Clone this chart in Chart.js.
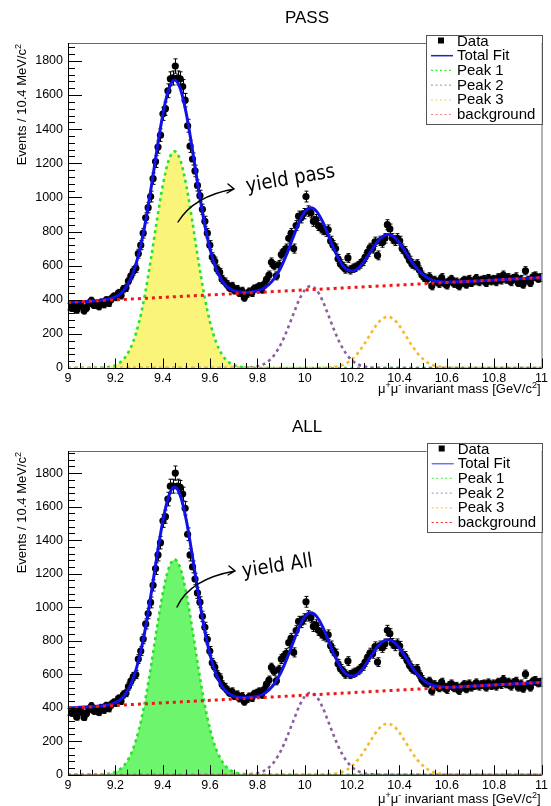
<!DOCTYPE html>
<html>
<head>
<meta charset="utf-8">
<script src="https://cdn.jsdelivr.net/npm/chart.js@4.4.1/dist/chart.umd.min.js"></script>
<style>
    html, body { margin: 0; padding: 0; background: #fff; }
    #wrap { position: relative; width: 551px; height: 806px; overflow: hidden; }
    canvas { position: absolute; left: 0; }
</style>
</head>
<body>
<div id="wrap">
    <canvas id="passChart" width="551" height="403" style="top:0"></canvas>
    <canvas id="allChart" width="551" height="403" style="top:403px"></canvas>
</div>
<script>
(function() {
    'use strict';

    var massTicks = [9, 9.2, 9.4, 9.6, 9.8, 10, 10.2, 10.4, 10.6, 10.8, 11];
    var eventTicks = [0, 200, 400, 600, 800, 1000, 1200, 1400, 1600, 1800];
    var legendLabels = ['Data', 'Total Fit', 'Peak 1', 'Peak 2', 'Peak 3', 'background'];

    // events per 10.4 MeV bin, 192 bins from 9 to 11 GeV
    var passCounts = [
        360, 350, 365, 340, 372, 360, 335, 352, 380, 395,
        368, 375, 360, 385, 372, 398, 380, 405, 420, 415,
        440, 425, 462, 470, 510, 540, 568, 585, 670, 720,
        790, 880, 940, 1005, 1110, 1210, 1295, 1365, 1490, 1520,
        1625, 1695, 1700, 1770, 1700, 1695, 1650, 1570, 1420, 1300,
        1225, 1155, 1070, 1010, 930, 860, 790, 720, 650, 625,
        580, 560, 520, 505, 490, 470, 480, 455, 462, 440,
        452, 412, 435, 448, 440, 465, 470, 478, 460, 490,
        520, 545, 620, 600, 540, 605, 665, 685, 700, 760,
        790, 700, 835, 890, 880, 905, 1005, 920, 910, 860,
        870, 835, 820, 810, 800, 810, 745, 720, 700, 640,
        610, 595, 580, 645, 575, 585, 590, 600, 610, 625,
        650, 680, 705, 700, 740, 660, 745, 735, 760, 840,
        815, 760, 745, 760, 745, 700, 685, 660, 630, 610,
        600, 610, 575, 545, 530, 520, 535, 480, 515, 505,
        495, 530, 500, 485, 510, 520, 495, 505, 480, 500,
        515, 490, 520, 500, 510, 525, 505, 515, 520, 500,
        525, 510, 520, 505, 530, 515, 545, 520, 530, 505,
        525, 535, 500, 520, 490, 570, 515, 500, 535, 540,
        525, 530
    ];
    var allCounts = [
        375, 368, 382, 345, 386, 372, 342, 366, 392, 410,
        380, 390, 372, 400, 386, 412, 395, 418, 432, 428,
        455, 440, 478, 488, 526, 558, 586, 598, 690, 738,
        810, 900, 962, 1028, 1130, 1230, 1312, 1385, 1515, 1540,
        1645, 1722, 1722, 1800, 1722, 1715, 1675, 1590, 1435, 1312,
        1240, 1168, 1085, 1030, 945, 880, 808, 738, 668, 642,
        598, 578, 538, 522, 505, 488, 496, 470, 478, 456,
        468, 436, 452, 466, 458, 482, 488, 496, 478, 508,
        540, 565, 640, 618, 560, 628, 690, 708, 725, 788,
        815, 730, 860, 915, 908, 930, 1032, 948, 938, 885,
        895, 862, 845, 832, 822, 835, 770, 742, 722, 662,
        632, 618, 600, 678, 598, 606, 612, 622, 632, 648,
        672, 702, 728, 722, 765, 672, 770, 758, 782, 862,
        842, 785, 768, 782, 768, 722, 708, 682, 652, 632,
        622, 632, 598, 568, 552, 542, 558, 498, 538, 528,
        518, 552, 522, 508, 532, 542, 518, 528, 502, 522,
        538, 512, 542, 522, 532, 548, 528, 538, 542, 522,
        548, 532, 542, 528, 552, 538, 568, 542, 552, 528,
        548, 558, 522, 542, 515, 600, 538, 522, 558, 562,
        548, 552
    ];

    // fit curves read every 25 MeV from 9 to 11 GeV
    var passTotalFit = [
        385, 387, 389, 390, 392, 394, 398, 405, 417, 439,
        483, 558, 675, 840, 1046, 1273, 1482, 1632, 1688, 1635,
        1489, 1284, 1061, 858, 697, 583, 512, 472, 453, 445,
        443, 446, 452, 466, 491, 532, 592, 672, 763, 851,
        915, 939, 918, 859, 776, 693, 623, 580, 568, 584,
        622, 675, 727, 767, 783, 771, 734, 681, 627, 581,
        546, 523, 510, 505, 503, 504, 505, 507, 508, 510,
        512, 514, 516, 517, 519, 521, 523, 525, 526, 528,
        530
    ];
    var passPeak1 = [
        0, 0, 0, 0, 0, 1, 3, 7, 17, 38,
        80, 153, 268, 431, 636, 861, 1068, 1216, 1270, 1216,
        1068, 861, 636, 431, 268, 153, 80, 38, 17, 7,
        3, 1, 0, 0, 0, 0, 0, 0, 0, 0,
        0, 0, 0, 0, 0, 0, 0, 0, 0, 0,
        0, 0, 0, 0, 0, 0, 0, 0, 0, 0,
        0, 0, 0, 0, 0, 0, 0, 0, 0, 0,
        0, 0, 0, 0, 0, 0, 0, 0, 0, 0,
        0
    ];
    var passPeak2 = [
        0, 0, 0, 0, 0, 0, 0, 0, 0, 0,
        0, 0, 0, 0, 0, 0, 0, 0, 0, 0,
        0, 0, 0, 0, 0, 0, 0, 0, 0, 0,
        1, 4, 9, 21, 44, 83, 142, 220, 309, 395,
        457, 480, 457, 395, 309, 220, 142, 83, 44, 21,
        9, 4, 1, 0, 0, 0, 0, 0, 0, 0,
        0, 0, 0, 0, 0, 0, 0, 0, 0, 0,
        0, 0, 0, 0, 0, 0, 0, 0, 0, 0,
        0
    ];
    var passPeak3 = [
        0, 0, 0, 0, 0, 0, 0, 0, 0, 0,
        0, 0, 0, 0, 0, 0, 0, 0, 0, 0,
        0, 0, 0, 0, 0, 0, 0, 0, 0, 0,
        0, 0, 0, 0, 0, 0, 0, 0, 0, 0,
        0, 0, 0, 1, 2, 6, 13, 27, 52, 89,
        137, 193, 247, 286, 300, 286, 247, 193, 137, 89,
        52, 27, 13, 6, 2, 1, 0, 0, 0, 0,
        0, 0, 0, 0, 0, 0, 0, 0, 0, 0,
        0
    ];
    var passBackground = [385, 530];

    var allTotalFit = [
        398, 400, 402, 404, 406, 408, 412, 418, 430, 453,
        498, 574, 692, 859, 1069, 1298, 1510, 1661, 1717, 1664,
        1517, 1309, 1084, 878, 715, 601, 529, 488, 469, 461,
        459, 462, 468, 482, 508, 550, 612, 694, 786, 876,
        942, 966, 945, 884, 799, 715, 644, 600, 588, 603,
        642, 696, 750, 790, 806, 794, 756, 703, 648, 601,
        566, 542, 530, 525, 522, 523, 524, 526, 528, 530,
        532, 534, 536, 538, 540, 541, 543, 545, 547, 549,
        551
    ];
    var allPeak1 = [
        0, 0, 0, 0, 0, 1, 3, 7, 17, 38,
        81, 155, 271, 436, 644, 871, 1081, 1230, 1285, 1230,
        1081, 871, 644, 436, 271, 155, 81, 38, 17, 7,
        3, 1, 0, 0, 0, 0, 0, 0, 0, 0,
        0, 0, 0, 0, 0, 0, 0, 0, 0, 0,
        0, 0, 0, 0, 0, 0, 0, 0, 0, 0,
        0, 0, 0, 0, 0, 0, 0, 0, 0, 0,
        0, 0, 0, 0, 0, 0, 0, 0, 0, 0,
        0
    ];
    var allPeak2 = [
        0, 0, 0, 0, 0, 0, 0, 0, 0, 0,
        0, 0, 0, 0, 0, 0, 0, 0, 0, 0,
        0, 0, 0, 0, 0, 0, 0, 0, 0, 0,
        1, 4, 9, 21, 45, 85, 145, 225, 315, 403,
        467, 490, 467, 403, 315, 225, 145, 85, 45, 21,
        9, 4, 1, 0, 0, 0, 0, 0, 0, 0,
        0, 0, 0, 0, 0, 0, 0, 0, 0, 0,
        0, 0, 0, 0, 0, 0, 0, 0, 0, 0,
        0
    ];
    var allPeak3 = [
        0, 0, 0, 0, 0, 0, 0, 0, 0, 0,
        0, 0, 0, 0, 0, 0, 0, 0, 0, 0,
        0, 0, 0, 0, 0, 0, 0, 0, 0, 0,
        0, 0, 0, 0, 0, 0, 0, 0, 0, 0,
        0, 0, 0, 1, 2, 6, 13, 27, 53, 90,
        139, 196, 251, 291, 305, 291, 251, 196, 139, 90,
        53, 27, 13, 6, 2, 1, 0, 0, 0, 0,
        0, 0, 0, 0, 0, 0, 0, 0, 0, 0,
        0
    ];
    var allBackground = [398, 551];

    var massMin = 9;
    var massMax = 11;
    var binWidth = (massMax - massMin) / passCounts.length;
    var fitStep = 0.025;
    var FONT = '"Liberation Sans", Arial, Helvetica, sans-serif';

    var COLORS = {
        total: '#1212e8',
        peak1: '#22e622',
        peak2: '#8c5f9c',
        peak3: '#f7b928',
        background: '#ee1818'
    };

    makePanel('passChart', {
        title: 'PASS',
        counts: passCounts,
        total: passTotalFit,
        peak1: passPeak1,
        peak2: passPeak2,
        peak3: passPeak3,
        background: passBackground,
        yMax: 1905,
        areaTop: 43,
        axisHeight: 35,
        titleY: 23,
        xTitleY: 393,
        fillColor: '#fbf47a',
        legendLeft: 426,
        legendColors: ['#000', '#2424b8', '#33ee33', '#b89cc8', '#f2dc6a', '#f08a8a'],
        note: 'yield pass',
        noteX: 247, noteY: 192, noteAngle: -0.17,
        arrow: [178, 222, 194, 196, 234, 189]
    });

    makePanel('allChart', {
        title: 'ALL',
        counts: allCounts,
        total: allTotalFit,
        peak1: allPeak1,
        peak2: allPeak2,
        peak3: allPeak3,
        background: allBackground,
        yMax: 1932,
        areaTop: 48,
        axisHeight: 31.3,
        titleY: 28.7,
        xTitleY: 400,
        fillColor: '#6ef56e',
        legendLeft: 426.7,
        legendColors: ['#000', '#7070f0', '#66ee66', '#b89cc8', '#f2cc5a', '#ee2222'],
        note: 'yield All',
        noteX: 243, noteY: 174, noteAngle: -0.15,
        arrow: [177, 204, 190, 176, 235, 168]
    });

    function curve(values) {
        return values.map(function(v, i) {
            return { x: massMin + i * fitStep, y: v };
        });
    }

    function makePanel(canvasId, cfg) {
        var bins = cfg.counts.map(function(c, i) {
            return { x: massMin + (i + 0.5) * binWidth, y: c };
        });

        var lineDefaults = {
            showLine: true,
            pointRadius: 0,
            fill: false,
            cubicInterpolationMode: 'monotone'
        };

        function line(extra) {
            return Object.assign({}, lineDefaults, extra);
        }

        new Chart(document.getElementById(canvasId), {
            type: 'scatter',
            data: {
                datasets: [
                    line({
                        label: 'background',
                        data: [{ x: massMin, y: cfg.background[0] }, { x: massMax, y: cfg.background[1] }],
                        borderColor: COLORS.background,
                        borderWidth: 3,
                        borderDash: [3, 4],
                        order: 1
                    }),
                    line({ label: 'Peak 3', data: curve(cfg.peak3), borderColor: COLORS.peak3, borderWidth: 2.6, borderDash: [3, 3.5], order: 2 }),
                    line({ label: 'Peak 2', data: curve(cfg.peak2), borderColor: COLORS.peak2, borderWidth: 2.6, borderDash: [3, 3.5], order: 3 }),
                    line({ label: 'Peak 1', data: curve(cfg.peak1), borderColor: COLORS.peak1, borderWidth: 2.6, borderDash: [3, 3.5], order: 4 }),
                    line({ label: 'Total Fit', data: curve(cfg.total), borderColor: COLORS.total, borderWidth: 3, order: 5 }),
                    {
                        label: 'Data',
                        data: bins,
                        pointRadius: 3.6,
                        pointBackgroundColor: '#000',
                        pointBorderWidth: 0,
                        showLine: false,
                        order: 6
                    },
                    line({
                        label: 'yield',
                        data: curve(cfg.peak1),
                        fill: 'origin',
                        backgroundColor: cfg.fillColor,
                        borderWidth: 0,
                        borderColor: 'rgba(0,0,0,0)',
                        order: 7
                    })
                ]
            },
            options: {
                responsive: false,
                animation: false,
                devicePixelRatio: 1,
                layout: { padding: { left: 0, right: 5, top: cfg.areaTop, bottom: 0 } },
                plugins: {
                    legend: { display: false },
                    tooltip: { enabled: false },
                    title: { display: false }
                },
                scales: {
                    x: {
                        type: 'linear',
                        min: massMin,
                        max: massMax,
                        afterBuildTicks: function(scale) {
                            scale.ticks = massTicks.map(function(v) { return { value: v }; });
                        },
                        afterFit: function(scale) { scale.height = cfg.axisHeight; },
                        grid: { display: false, drawTicks: false },
                        border: { display: false },
                        ticks: {
                            color: '#000',
                            font: { family: FONT, size: 12.5 },
                            padding: 3,
                            maxRotation: 0,
                            autoSkip: false,
                            callback: function(v) { return String(v); }
                        }
                    },
                    y: {
                        type: 'linear',
                        min: 0,
                        max: cfg.yMax,
                        afterBuildTicks: function(scale) {
                            scale.ticks = eventTicks.map(function(v) { return { value: v }; });
                        },
                        afterFit: function(scale) { scale.width = 68; },
                        grid: { display: false, drawTicks: false },
                        border: { display: false },
                        ticks: {
                            color: '#000',
                            font: { family: FONT, size: 12.5 },
                            padding: 5,
                            autoSkip: false,
                            callback: function(v) { return String(v); }
                        }
                    }
                }
            },
            plugins: [{
                id: 'rootStyle',
                afterDatasetDraw: function(chart, args) {
                    if (chart.data.datasets[args.index].label !== 'Data') {
                        return;
                    }
                    drawErrors(chart, cfg.counts);
                },
                afterDraw: function(chart) {
                    drawFrame(chart);
                    drawTexts(chart, cfg);
                    drawLegend(chart, cfg);
                    drawNote(chart, cfg);
                }
            }]
        });
    }

    function drawErrors(chart, counts) {
        var ctx = chart.ctx;
        var xs = chart.scales.x;
        var ys = chart.scales.y;
        ctx.save();
        ctx.strokeStyle = '#000';
        ctx.lineWidth = 1;
        ctx.beginPath();
        counts.forEach(function(c, i) {
            var px = Math.round(xs.getPixelForValue(massMin + (i + 0.5) * binWidth)) + 0.5;
            var err = Math.sqrt(c);
            var top = ys.getPixelForValue(c + err);
            var bot = ys.getPixelForValue(c - err);
            ctx.moveTo(px, top);
            ctx.lineTo(px, bot);
            ctx.moveTo(px - 2, top);
            ctx.lineTo(px + 2, top);
            ctx.moveTo(px - 2, bot);
            ctx.lineTo(px + 2, bot);
        });
        ctx.stroke();
        ctx.restore();
    }

    function drawFrame(chart) {
        var ctx = chart.ctx;
        var a = chart.chartArea;
        var xs = chart.scales.x;
        var ys = chart.scales.y;
        var v;

        ctx.save();
        ctx.lineWidth = 1;
        ctx.strokeStyle = '#6a6a6a';
        ctx.strokeRect(a.left + 0.5, a.top + 0.5, a.right - a.left, a.bottom - a.top);

        ctx.strokeStyle = '#000';
        ctx.beginPath();
        ctx.moveTo(a.left + 0.5, a.top);
        ctx.lineTo(a.left + 0.5, a.bottom + 0.5);
        ctx.lineTo(a.right, a.bottom + 0.5);

        for (v = 0; v <= ys.max + 0.01; v += 40) {
            var py = Math.round(ys.getPixelForValue(v)) + 0.5;
            var len = (v % 200 === 0) ? 14 : 7;
            ctx.moveTo(a.left, py);
            ctx.lineTo(a.left + len, py);
        }
        for (v = 0; v <= 40; v++) {
            var px = Math.round(xs.getPixelForValue(massMin + v * 0.05)) + 0.5;
            var tl = (v % 4 === 0) ? 9.5 : 5;
            ctx.moveTo(px, a.bottom);
            ctx.lineTo(px, a.bottom - tl);
        }
        ctx.stroke();
        ctx.restore();
    }

    function drawRich(ctx, parts, xRight, y, size, supSize) {
        var total = 0;
        parts.forEach(function(p) {
            ctx.font = (p.sup ? supSize : size) + 'px ' + FONT;
            p.w = ctx.measureText(p.t).width;
            total += p.w;
        });
        var x = xRight - total;
        parts.forEach(function(p) {
            ctx.font = (p.sup ? supSize : size) + 'px ' + FONT;
            ctx.fillText(p.t, x, p.sup ? y - size * 0.42 : y);
            x += p.w;
        });
    }

    function drawTexts(chart, cfg) {
        var ctx = chart.ctx;
        var a = chart.chartArea;
        ctx.save();
        ctx.fillStyle = '#000';
        ctx.textBaseline = 'alphabetic';
        ctx.textAlign = 'center';
        ctx.font = '17px ' + FONT;
        ctx.fillText(cfg.title, 307, cfg.titleY);

        ctx.textAlign = 'left';
        drawRich(ctx, [
            { t: '\u03bc' }, { t: '+', sup: true }, { t: '\u03bc' }, { t: '-', sup: true },
            { t: ' invariant mass [GeV/c' }, { t: '2', sup: true }, { t: ']' }
        ], a.right - 1, cfg.xTitleY, 13, 9);

        ctx.translate(26, a.top + 1);
        ctx.rotate(-Math.PI / 2);
        drawRich(ctx, [{ t: 'Events / 10.4 MeV/c' }, { t: '2', sup: true }], 0, 0, 13, 9);
        ctx.restore();
    }

    function drawLegend(chart, cfg) {
        var ctx = chart.ctx;
        var a = chart.chartArea;
        var left = cfg.legendLeft;
        var top = a.top - 8;
        var width = a.right - left;
        var height = 89;

        ctx.save();
        ctx.fillStyle = '#fff';
        ctx.fillRect(left, top, width, height);
        ctx.strokeStyle = '#555';
        ctx.lineWidth = 1;
        ctx.strokeRect(Math.round(left) + 0.5, Math.round(top) + 0.5, Math.round(width), height);

        ctx.font = '15px ' + FONT;
        ctx.textBaseline = 'middle';
        ctx.textAlign = 'left';
        legendLabels.forEach(function(label, i) {
            var cy = top + 5.5 + i * 14.7;
            if (i === 0) {
                ctx.fillStyle = '#000';
                ctx.fillRect(left + 12, cy - 3, 6, 6);
            } else {
                ctx.strokeStyle = cfg.legendColors[i];
                ctx.lineWidth = i === 1 ? 1.5 : 1.2;
                ctx.setLineDash(i === 1 ? [] : [2, 2.5]);
                ctx.beginPath();
                ctx.moveTo(left + 5, cy + 0.5);
                ctx.lineTo(left + 27, cy + 0.5);
                ctx.stroke();
                ctx.setLineDash([]);
            }
            ctx.fillStyle = '#000';
            ctx.fillText(label, left + 31, cy + 1);
        });
        ctx.restore();
    }

    function drawNote(chart, cfg) {
        var ctx = chart.ctx;
        var p = cfg.arrow;
        ctx.save();
        ctx.strokeStyle = '#000';
        ctx.lineWidth = 1.4;
        ctx.lineCap = 'round';
        ctx.beginPath();
        ctx.moveTo(p[0], p[1]);
        ctx.quadraticCurveTo(p[2], p[3], p[4], p[5]);
        ctx.moveTo(p[4] - 6, p[5] - 5);
        ctx.lineTo(p[4], p[5]);
        ctx.lineTo(p[4] - 7, p[5] + 4);
        ctx.stroke();

        ctx.translate(cfg.noteX, cfg.noteY);
        ctx.rotate(cfg.noteAngle);
        ctx.fillStyle = '#000';
        ctx.font = '20px "DejaVu Sans", sans-serif';
        ctx.textAlign = 'left';
        ctx.scale(0.9, 1);
        ctx.fillText(cfg.note, 0, 0);
        ctx.restore();
    }
})();
</script>
</body>
</html>
